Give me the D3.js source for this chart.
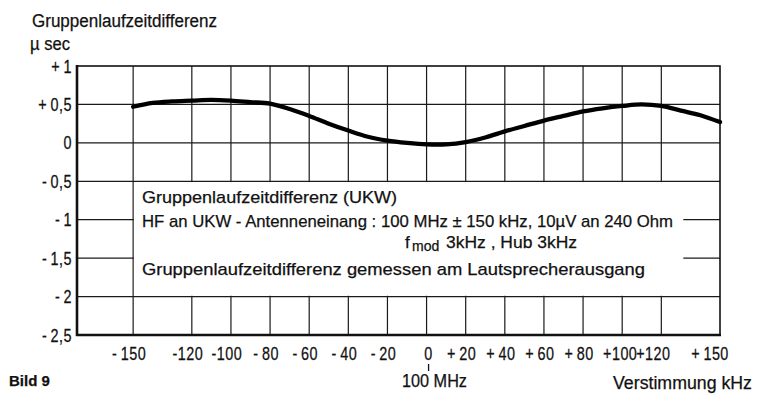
<!DOCTYPE html>
<html><head><meta charset="utf-8">
<script src="https://cdn.jsdelivr.net/npm/d3@7"></script>
<style>
html,body{margin:0;padding:0;background:#fff;}
text{font-family:"Liberation Sans","DejaVu Sans",sans-serif;fill:#111;stroke:#111;stroke-width:0.25;}
</style></head>
<body>
<svg id="c" width="759" height="403"></svg>
<script>
// Data
const detuneKHz = [-150,-140,-130,-120,-110,-100,-90,-80,-70,-60,-50,-40,-30,-20,-10,0,10,20,30,40,50,60,70,80,90,100,110,120,130,140,150];
const delayDiff = [0.47,0.52,0.54,0.55,0.56,0.55,0.53,0.51,0.44,0.35,0.25,0.16,0.08,0.03,0.00,-0.02,-0.02,0.01,0.07,0.15,0.22,0.29,0.35,0.41,0.45,0.48,0.50,0.48,0.42,0.36,0.27];
const xGridValues = [-150,-120,-100,-80,-60,-40,-20,0,20,40,60,80,100,120];
const xTickValues = [-150,-120,-100,-80,-60,-40,-20,0,20,40,60,80,100,120,150];
const xTickLabels = ["-\u2009150","-120","-100","-\u200980","-\u200960","-\u200940","-\u200920","0","+\u200920","+\u200940","+\u200960","+\u200980","+100","+120","+\u2009150"];
const yTickValues = [1,0.5,0,-0.5,-1,-1.5,-2,-2.5];
const yTickLabels = ["+\u20091","+\u20090,5","0","-\u20090,5","-\u20091","-\u20091,5","-\u20092","-\u20092,5"];

const svg = d3.select("#c");
const x = d3.scaleLinear().domain([-178.7,150]).range([77,720]);
const y = d3.scaleLinear().domain([-2.5,1]).range([335,66]);
const SX = 0.8; // horizontal condensing of the lettering

function ctext(parent, px, py, str, size, anchor) {
  return parent.append("text")
    .attr("transform", `translate(${px},${py}) scale(${SX},1)`)
    .attr("text-anchor", anchor || "start")
    .attr("letter-spacing", 0.6)
    .attr("font-size", size).text(str);
}

// grid
const g = svg.append("g");
g.selectAll("line.v").data(xGridValues).enter().append("line")
  .attr("x1",d=>x(d)).attr("x2",d=>x(d)).attr("y1",y(1)).attr("y2",y(-2.5))
  .attr("stroke","#1a1a1a").attr("stroke-width",1.2);
g.selectAll("line.h").data([0.5,0,-0.5,-1,-1.5,-2]).enter().append("line")
  .attr("x1",x.range()[0]).attr("x2",x.range()[1]).attr("y1",d=>y(d)).attr("y2",d=>y(d))
  .attr("stroke","#1a1a1a").attr("stroke-width",1.2);

// annotation box (white)
svg.append("rect")
  .attr("x",x(-150)+0.8).attr("y",y(-0.5)+0.8)
  .attr("width",x(120)+22-(x(-150)+0.8)).attr("height",y(-2)-y(-0.5)-1.6)
  .attr("fill","#fff");

// frame
svg.append("rect").attr("x",77).attr("y",66).attr("width",720-77).attr("height",335-66)
  .attr("fill","none").attr("stroke","#111").attr("stroke-width",1.6);
svg.append("line").attr("x1",77).attr("x2",77).attr("y1",65).attr("y2",336).attr("stroke","#111").attr("stroke-width",2.6);
svg.append("line").attr("x1",76).attr("x2",721).attr("y1",335).attr("y2",335).attr("stroke","#111").attr("stroke-width",2.4);

// curve
const line = d3.line().x((d,i)=>x(detuneKHz[i])).y(d=>y(d)).curve(d3.curveCatmullRom.alpha(0.5));
svg.append("path").attr("d",line(delayDiff)).attr("fill","none")
  .attr("stroke","#000").attr("stroke-width",4.3).attr("stroke-linecap","round");

// y labels
yTickValues.forEach((v,i)=>ctext(svg, 72, y(v)+6.5, yTickLabels[i], 18, "end"));

// x labels
const xShift = v => v===120 ? -8 : (v===150 ? -10 : (v===0 ? 2 : (v===100 ? -2 : -4)));
xTickValues.forEach((v,i)=>ctext(svg, x(v)+xShift(v), 360, xTickLabels[i], 18, "middle"));

// 100 MHz marker
svg.append("line").attr("x1",x(0)+2).attr("x2",x(0)+2).attr("y1",364).attr("y2",371).attr("stroke","#111").attr("stroke-width",1.3);
svg.append("text").attr("x",402).attr("y",387).attr("font-size",18).attr("textLength",65).attr("lengthAdjust","spacingAndGlyphs").text("100 MHz");
svg.append("text").attr("x",613).attr("y",389).attr("font-size",18).attr("textLength",139).attr("lengthAdjust","spacingAndGlyphs").text("Verstimmung kHz");

// titles
svg.append("text").attr("x",32).attr("y",27).attr("font-size",18).attr("textLength",185).attr("lengthAdjust","spacingAndGlyphs").text("Gruppenlaufzeitdifferenz");
svg.append("text").attr("x",30).attr("y",50).attr("font-size",18).attr("textLength",40).attr("lengthAdjust","spacingAndGlyphs").text("µ sec");
svg.append("text").attr("x",9).attr("y",386).attr("font-size",15).attr("font-weight","bold").text("Bild 9");

// annotation text
const ann = svg.append("g").attr("font-size",17);
ann.append("text").attr("x",142).attr("y",203).attr("textLength",255).attr("lengthAdjust","spacingAndGlyphs").text("Gruppenlaufzeitdifferenz (UKW)");
ann.append("text").attr("x",142).attr("y",227).attr("textLength",531).attr("lengthAdjust","spacingAndGlyphs").text("HF an UKW - Antenneneinang : 100 MHz ± 150 kHz, 10µV an 240 Ohm");
const fm = ann.append("text").attr("y",248);
fm.append("tspan").attr("x",405).text("f");
fm.append("tspan").attr("x",412).attr("font-size",14).attr("dy",3).text("mod");
fm.append("tspan").attr("x",446).attr("dy",-3).attr("textLength",131).attr("lengthAdjust","spacingAndGlyphs").text("3kHz , Hub  3kHz");
ann.append("text").attr("x",142).attr("y",275).attr("textLength",503).attr("lengthAdjust","spacingAndGlyphs").text("Gruppenlaufzeitdifferenz gemessen am Lautsprecherausgang");
</script>
</body></html>
